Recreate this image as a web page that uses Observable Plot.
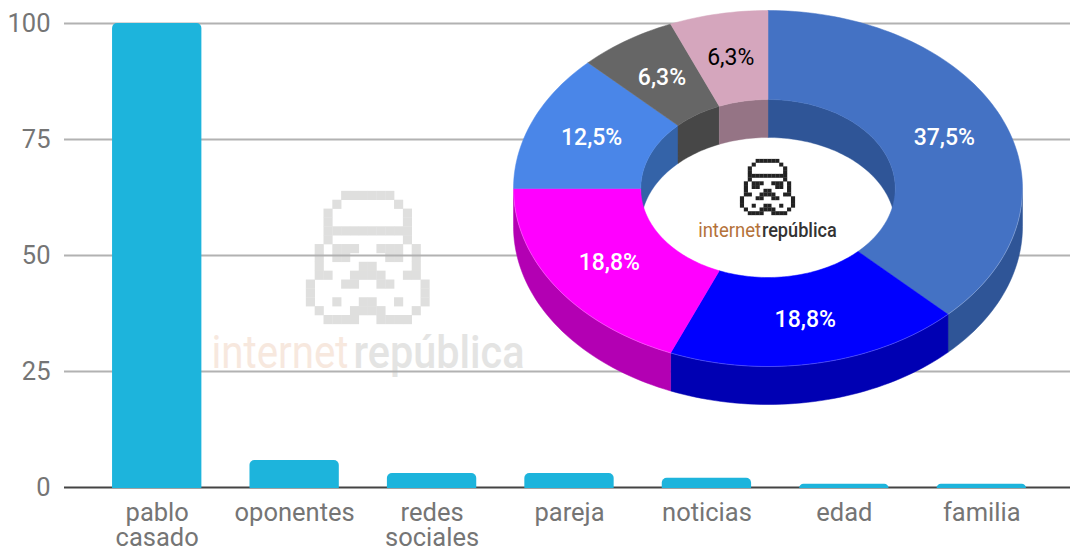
<!DOCTYPE html>
<html>
<head>
<meta charset="utf-8">
<style>
html,body{margin:0;padding:0;background:#fff}
#stage{position:relative;width:1070px;height:549px;overflow:hidden;background:#fff}
#stage svg{position:absolute;left:0;top:0;background:transparent;overflow:visible}
</style>
<script src="https://cdn.jsdelivr.net/npm/d3@7"></script>
<script src="https://cdn.jsdelivr.net/npm/@observablehq/plot@0.6"></script>
</head>
<body>
<div id="stage"></div>
<script>
// Bar chart
const categories = ["pablo casado","oponentes","redes sociales","pareja","noticias","edad","familia"];
const values = [100,5.8,3,3,2,0.7,0.7];
const yTicks = [0,25,50,75,100];

// Donut
const donutNames = ["oponentes","redes sociales","pareja","noticias","edad","familia"];
const donutValues = [6,3,3,2,1,1];
const topColors  = ["#4472c4","#0000ff","#ff00ff","#4a86e8","#666666","#d5a6bd"];
const sideColors = ["#2f5597","#0000b3","#b300b3","#3463a8","#474747","#957485"];

// Brand
const brandA = "internet", brandB = "república";
const helmet = [
  "....######....",
  "...#......#...",
  "..#........#..",
  "..#........#..",
  "..##########..",
  "..#........#..",
  ".#.###..###.#.",
  ".#.##....##.#.",
  ".#....##....#.",
  ".##..####..##.",
  "#...##..##...#",
  "#............#",
  "#..#..##..#..#",
  ".#...####...#.",
  "..####..####.."
];
const helmetCells = helmet.flatMap((row,r)=>[...row].flatMap((c,k)=>c==="#"?[{k,r}]:[]));

const stage = document.getElementById("stage");
const W = 1070, H = 549;
const font = "Roboto, sans-serif";

// squeeze a wordmark to its drawn width: the original face is a condensed one
function squeezed(plot, widths){
  d3.select(plot).selectAll("text").each(function(_,i){
    d3.select(this).attr("textLength",widths[i]).attr("lengthAdjust","spacingAndGlyphs");
  });
  return plot;
}

// --- layer 1: watermark
stage.append(squeezed(Plot.plot({
  width:W,height:H,margin:0,style:{background:"transparent",fontFamily:font},
  x:{axis:null,domain:[0,14],range:[306,429.5]},
  y:{axis:null,domain:[0,15],range:[191,324]},
  marks:[
    Plot.rect(helmetCells,{x1:"k",x2:d=>d.k+1,y1:"r",y2:d=>d.r+1,fill:"#dfdfde",inset:-0.15}),
    Plot.text([brandA],{x:[4.76],y:[18.2],text:d=>d,textAnchor:"end",fontSize:46,fontWeight:400,fill:"#f7e8de"}),
    Plot.text([brandB],{x:[5.33],y:[18.2],text:d=>d,textAnchor:"start",fontSize:46,fontWeight:500,fill:"#e4e4e3"})
  ]
}),[137,171]));

// --- layer 2: bars
const rows = categories.map((c,i)=>({c,v:values[i]}));
stage.append(Plot.plot({
  width:W,height:H,marginLeft:88,marginRight:20,marginTop:23,marginBottom:62,
  style:{background:"transparent",fontFamily:font},
  x:{domain:categories,paddingInner:0.35,paddingOuter:0.175,round:false,label:null},
  y:{domain:[0,100],label:null},
  marks:[
    Plot.axisY({ticks:yTicks,tickSize:0,tickPadding:38,fontSize:25.5,color:"#757575",label:null,tickFormat:d=>d}),
    Plot.axisX({tickSize:0,tickPadding:16,fontSize:25.5,color:"#757575",label:null,lineHeight:0.98,tickFormat:d=>d.replace(" ","\n")}),
    Plot.ruleY(yTicks.filter(t=>t>0),{stroke:"#b2b2b2",strokeWidth:2,insetLeft:-24,insetRight:-20}),
    Plot.ruleY([0],{stroke:"#444",strokeWidth:2,insetLeft:-24,insetRight:-20}),
    Plot.barY(rows,{x:"c",y:"v",fill:"#1db4dc",ry1:5,insetBottom:-1})
  ]
}));

// --- layer 3: donut, in unit-circle coordinates seen from above
const total = d3.sum(donutValues);
let acc = 0;
const slices = donutValues.map((v,i)=>{
  const a0 = acc/total*2*Math.PI; acc += v;
  const a1 = acc/total*2*Math.PI;
  return {i,v,a0,a1,mid:(a0+a1)/2,label:(v/total*100).toFixed(1).replace(".",",")+"%",name:donutNames[i]};
});
const RI = 0.5, DEPTH = 38/178, STEP = Math.PI/120;
function arc(a0,a1,r,dy){
  const n = Math.max(2,Math.ceil((a1-a0)/STEP)), p=[];
  for(let j=0;j<=n;j++){const a=a0+(a1-a0)*j/n;p.push({x:r*Math.sin(a),y:r*Math.cos(a)-dy});}
  return p;
}
const closed = p => [...p,p[0]];
const poly = (p,fill,extra={}) => Plot.line(closed(p),{x:"x",y:"y",fill,stroke:"none",curve:"linear",...extra});
const marks = [];
// outer side wall
for(const s of slices){
  const a0=Math.max(s.a0,Math.PI/2), a1=Math.min(s.a1,Math.PI*1.5);
  if(a1>a0) marks.push(poly([...arc(a0,a1,1,0),...arc(a0,a1,1,DEPTH).reverse()],sideColors[s.i],{stroke:sideColors[s.i],strokeWidth:0.5}));
}
// hole
marks.push(poly(arc(0,2*Math.PI,RI,0),"#fff"));
// inner wall, back half
for(const s of slices){
  const ranges=[[s.a0,Math.min(s.a1,Math.PI/2)],[Math.max(s.a0,Math.PI*1.5),s.a1]];
  for(const [a0,a1] of ranges) if(a1>a0)
    marks.push(poly([...arc(a0,a1,RI,0),...arc(a0,a1,RI,DEPTH).reverse()],sideColors[s.i],{stroke:sideColors[s.i],strokeWidth:0.4}));
}
// top face
for(const s of slices){
  marks.push(poly([...arc(s.a0,s.a1,1,0),...arc(s.a0,s.a1,RI,0).reverse()],topColors[s.i],{stroke:topColors[s.i],strokeWidth:0.5}));
}
// thin light rim between top face and side wall
marks.push(Plot.line(arc(Math.PI/2,Math.PI*1.5,1,0),{x:"x",y:"y",stroke:"#fff",strokeOpacity:0.3,strokeWidth:0.8}));
// small helmet in the hole
marks.push(Plot.rect(helmetCells,{
  x1:d=>-0.108+d.k*0.216/14, x2:d=>-0.108+(d.k+1)*0.216/14,
  y1:d=>0.163-d.r*0.315/15, y2:d=>0.163-(d.r+1)*0.315/15,
  fill:"#222",inset:-0.1
}));
// value labels
const whiteLabels = slices.filter(s=>s.i<5), darkLabels = slices.filter(s=>s.i===5);
const labelPos = {x:d=>0.75*Math.sin(d.mid),y:d=>0.75*Math.cos(d.mid),text:"label",fontSize:23};
marks.push(Plot.text(whiteLabels,{...labelPos,fontWeight:500,fill:"#fff"}));
marks.push(Plot.text(darkLabels,{...labelPos,fontWeight:400,fill:"#000"}));
const donutX = {axis:null,domain:[-1,1],range:[513,1022]};
const donutY = {axis:null,domain:[1,-1],range:[10,366]};
stage.append(Plot.plot({
  width:W,height:H,margin:0,style:{background:"transparent",fontFamily:font},
  x:donutX,y:donutY,marks
}));

// --- layer 4: small brand wordmark
stage.append(squeezed(Plot.plot({
  width:W,height:H,margin:0,style:{background:"transparent",fontFamily:font},
  x:donutX,y:donutY,
  marks:[
    Plot.text([brandA],{x:[-0.027],y:[-0.234],text:d=>d,textAnchor:"end",fontSize:20,fontWeight:400,fill:"#b4723a"}),
    Plot.text([brandB],{x:[-0.024],y:[-0.234],text:d=>d,textAnchor:"start",fontSize:20,fontWeight:500,fill:"#333"})
  ]
}),[63,75]));
</script>
</body>
</html>
